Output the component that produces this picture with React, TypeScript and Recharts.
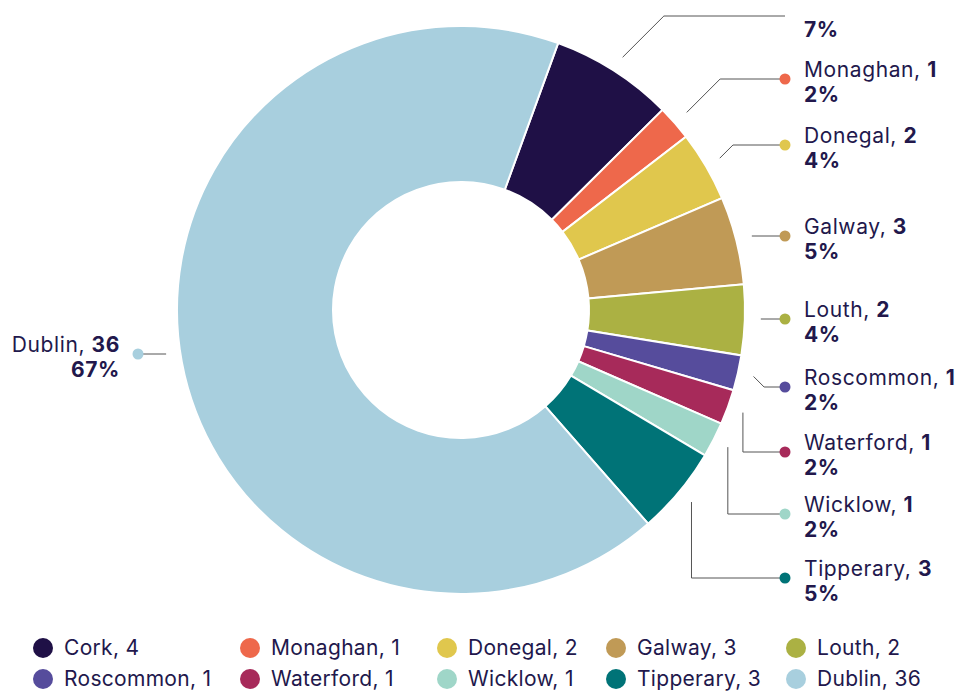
import React from 'react';
import { PieChart, Pie, Cell, Legend } from 'recharts';

const counties = ['Cork', 'Monaghan', 'Donegal', 'Galway', 'Louth', 'Roscommon', 'Waterford', 'Wicklow', 'Tipperary', 'Dublin'];
const counts = [4, 1, 2, 3, 2, 1, 1, 1, 3, 36];
// the slices are drawn from the rounded shares shown in the labels
const shares = [7, 2, 4, 5, 4, 2, 2, 2, 5, 67];
const colors = ['#1f1046', '#ee684b', '#e0c74d', '#c09a56', '#abb143', '#564c9c', '#a72a5a', '#9fd6c8', '#007377', '#a8cfde'];

// where each outside label sits, and how its leader bends
const labelY = [16, 79, 145, 236, 319, 387, 452, 514, 578, 354];
const leaderMode = ['diag', 'diag', 'diag', 'flat', 'flat', 'diag', 'vert', 'vert', 'vert', 'flat'];

const TEXT = '#22184c';
const FONT = 'Inter, "Noto Sans", sans-serif';

const data = counties.map((name, i) => ({ name, value: shares[i] }));

const RAD = Math.PI / 180;

const renderLabel = (props: any) => {
    const { cx, cy, midAngle, outerRadius, index } = props;
    const r = outerRadius + 16;
    const sx = cx + r * Math.cos(-midAngle * RAD);
    const sy = cy + r * Math.sin(-midAngle * RAD);
    const ly = labelY[index];
    const right = sx > cx;
    const dotX = right ? 785 : 138;
    const mode = leaderMode[index];
    let pts: string;
    if (mode === 'flat') {
        pts = `${sx},${ly} ${dotX},${ly}`;
    } else if (mode === 'diag') {
        const kx = sx + Math.abs(ly - sy);
        pts = `${sx},${sy} ${kx},${ly} ${dotX},${ly}`;
    } else {
        pts = `${sx},${sy} ${sx},${ly} ${dotX},${ly}`;
    }
    const hideName = index === 0; // top label runs off the frame in the original
    const tx = right ? 804 : 120;
    const anchor = right ? 'start' : 'end';
    return (
        <g key={`lbl-${index}`}>
            <polyline points={pts} fill="none" stroke="#555" strokeWidth={1} />
            {!hideName && <circle cx={dotX} cy={ly} r={5.5} fill={colors[index]} />}
            {!hideName && (
                <text x={tx} y={ly - 9} dy="0.35em" textAnchor={anchor} fill={TEXT} fontSize={21} letterSpacing={0.6} fontFamily={FONT}>
                    {counties[index]}, <tspan fontWeight={700}>{counts[index]}</tspan>
                </text>
            )}
            <text x={tx} y={hideName ? ly + 14 : ly + 16} dy="0.35em" textAnchor={anchor} fill={TEXT} fontSize={21} letterSpacing={0.6} fontWeight={700} fontFamily={FONT}>
                {shares[index]}%
            </text>
        </g>
    );
};

const LegendGrid = () => (
    <div
        style={{
            display: 'grid',
            gridTemplateColumns: '207px 197px 169px 180px auto',
            rowGap: 8,
            paddingLeft: 33,
            fontFamily: FONT,
            fontSize: 21,
            letterSpacing: 0.3,
            color: TEXT,
        }}
    >
        {counties.map((name, i) => (
            <div key={name} style={{ display: 'flex', alignItems: 'center', height: 23 }}>
                <span style={{ width: 20, height: 20, borderRadius: 10, background: colors[i], marginRight: 11, flexShrink: 0 }} />
                <span>{name}, {counts[i]}</span>
            </div>
        ))}
    </div>
);

export default function App() {
    return (
        <div style={{ position: 'absolute', left: 0, top: 0, width: 963, height: 693, background: '#fff' }}>
            <PieChart width={963} height={693} margin={{ top: 0, right: 0, bottom: 0, left: 0 }}>
                <Pie
                    data={data}
                    dataKey="value"
                    nameKey="name"
                    cx={461}
                    cy={310}
                    innerRadius={128}
                    outerRadius={284}
                    startAngle={70}
                    endAngle={-290}
                    stroke="#fff"
                    strokeWidth={2}
                    label={renderLabel}
                    labelLine={false}
                    isAnimationActive={false}
                >
                    {data.map((d, i) => (
                        <Cell key={d.name} fill={colors[i]} />
                    ))}
                </Pie>
                <Legend
                    content={() => <LegendGrid />}
                    wrapperStyle={{ position: 'absolute', left: 0, top: 636, width: 963 }}
                />
            </PieChart>
        </div>
    );
}
